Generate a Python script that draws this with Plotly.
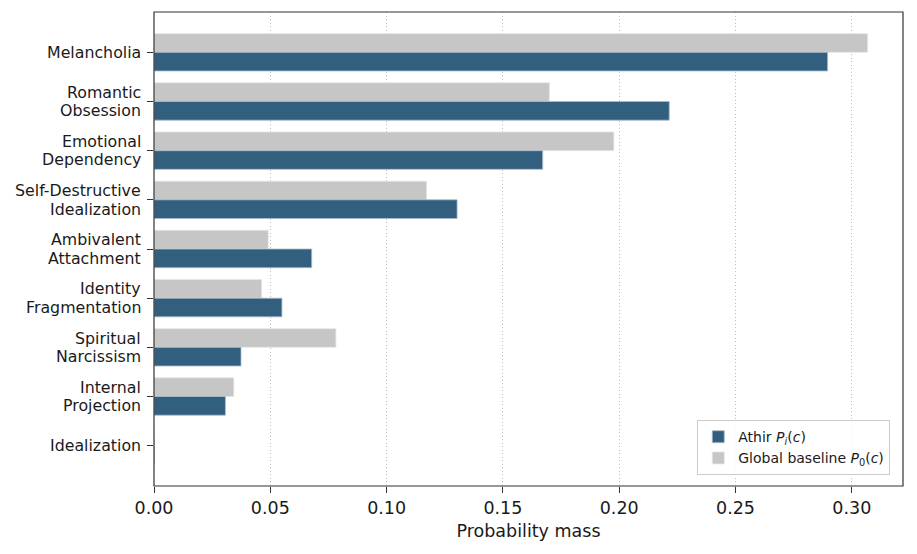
import plotly.graph_objects as go

categories = ["Melancholia", "Romantic Obsession", "Emotional Dependency",
              "Self-Destructive Idealization", "Ambivalent Attachment",
              "Identity Fragmentation", "Spiritual Narcissism",
              "Internal Projection", "Idealization"]
category_lines = [["Melancholia"], ["Romantic", "Obsession"], ["Emotional", "Dependency"],
                  ["Self-Destructive", "Idealization"], ["Ambivalent", "Attachment"],
                  ["Identity", "Fragmentation"], ["Spiritual", "Narcissism"],
                  ["Internal", "Projection"], ["Idealization"]]
athir = [0.2896, 0.2215, 0.1671, 0.1303, 0.0678, 0.0550, 0.0374, 0.0307, 0.0]
baseline = [0.3068, 0.1700, 0.1977, 0.1172, 0.0491, 0.0463, 0.0782, 0.0343, 0.0]
xticks = [0.0, 0.05, 0.10, 0.15, 0.20, 0.25, 0.30]
xticklabels = ["0.00", "0.05", "0.10", "0.15", "0.20", "0.25", "0.30"]

BLUE = "#335f7e"
GRAY = "#c6c6c6"
FONT = "DejaVu Sans"
TXT = "#1a1a1a"

fig = go.Figure()
fig.add_trace(go.Bar(
    y=categories, x=baseline, orientation="h",
    name="Global baseline <i>P</i><sub>0</sub>(<i>c</i>)",
    marker=dict(color=GRAY, line=dict(color="#e6e6e6", width=0.8)), legendrank=2,
))
fig.add_trace(go.Bar(
    y=categories, x=athir, orientation="h",
    name="Athir <i>P<sub>i</sub></i>(<i>c</i>)",
    marker=dict(color=BLUE, line=dict(color="#a9bccb", width=0.8)), legendrank=1,
))

# centred multi-line category labels
annotations = []
line_gap = 18.5
for i, lines in enumerate(category_lines):
    n = len(lines)
    for j, txt in enumerate(lines):
        annotations.append(dict(
            x=0, xref="paper", y=i, yref="y", text=txt, showarrow=False,
            xanchor="right", yanchor="middle", xshift=-11,
            yshift=((n - 1) / 2 - j) * line_gap,
            font=dict(family=FONT, size=15.8, color=TXT),
        ))

fig.update_layout(
    annotations=annotations,
    width=917, height=554,
    margin=dict(l=154, r=14, t=12, b=68),
    paper_bgcolor="white", plot_bgcolor="white",
    barmode="group", bargap=0.24, bargroupgap=0,
    font=dict(family=FONT, size=15, color=TXT),
    showlegend=True,
    legend=dict(x=0.983, xanchor="right", y=0.023, yanchor="bottom",
                bgcolor="rgba(255,255,255,0.85)", bordercolor="#cccccc", borderwidth=1,
                font=dict(family=FONT, size=14, color=TXT),
                tracegroupgap=0, itemwidth=30),
    shapes=[dict(type="rect", xref="paper", yref="paper", x0=0, x1=1, y0=0, y1=1,
                 line=dict(color="#333333", width=1.2), layer="above")],
)
fig.update_xaxes(
    range=[0, 0.322], tickvals=xticks, ticktext=xticklabels, automargin=False,
    tickfont=dict(size=17.5), ticks="outside", ticklen=6, tickcolor="#333333", tickwidth=1.2,
    showgrid=True, gridcolor="#bdbdbd", griddash="1px,2.5px", gridwidth=1,
    showline=False, zeroline=False,
    title=dict(text="Probability mass", font=dict(size=17.5), standoff=7),
)
fig.update_yaxes(
    range=[8.82, -0.82], type="category", automargin=False, showticklabels=False,
    ticks="outside", ticklen=6, tickcolor="#333333", tickwidth=1.2,
    showgrid=False, showline=False, zeroline=False,
)

fig.write_html("out.html", config={"displayModeBar": False},
               post_script="document.body.style.margin='0';")
